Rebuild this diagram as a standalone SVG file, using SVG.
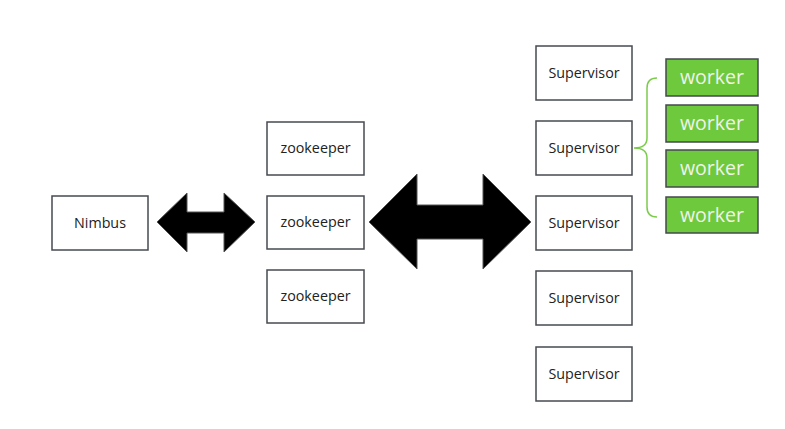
<svg xmlns="http://www.w3.org/2000/svg" width="785" height="429" viewBox="0 0 785 429">
<style>
.box{fill:#fff;stroke:#464b50;stroke-width:1.5}
.wk{fill:#6ec93c;stroke:#44494e;stroke-width:1.5}
.t{font-family:"Open Sans","Noto Sans",sans-serif;font-size:14.3px;fill:#222;text-anchor:middle;dominant-baseline:central}
.wt{font-family:"Open Sans","Noto Sans",sans-serif;font-size:19.5px;fill:#eef4ea;text-anchor:middle;dominant-baseline:central}
.arr{fill:#000;stroke:#555;stroke-width:1}
</style>
<rect width="785" height="429" fill="#fff"/>
<g id="connectors">
<path class="arr" d="M157,222 L187,193 L187,212 L224,212 L224,193 L255,222 L224,252 L224,233 L187,233 L187,252 Z"/>
<path class="arr" d="M369,222 L417,174 L417,205 L483,205 L483,174 L531,222 L483,269 L483,239 L417,239 L417,269 Z"/>
<path d="M657,78 Q647,78 647,88 L647,138 Q647,148 634,148 Q647,148 647,158 L647,207 Q647,217 657,217" fill="none" stroke="#7ccc4c" stroke-width="1.5"/>
</g>
<g id="nimbus"><rect class="box" x="52" y="196" width="96" height="54"/><text class="t" x="100" y="222">Nimbus</text></g>
<g id="zk1"><rect class="box" x="267" y="122" width="97" height="53"/><text class="t" x="315.5" y="147.5">zookeeper</text></g>
<g id="zk2"><rect class="box" x="267" y="196" width="97" height="53"/><text class="t" x="315.5" y="221.5">zookeeper</text></g>
<g id="zk3"><rect class="box" x="267" y="270" width="97" height="53"/><text class="t" x="315.5" y="295.5">zookeeper</text></g>
<g id="sup1"><rect class="box" x="536" y="46" width="96" height="54"/><text class="t" x="584" y="72">Supervisor</text></g>
<g id="sup2"><rect class="box" x="536" y="121" width="96" height="54"/><text class="t" x="584" y="147">Supervisor</text></g>
<g id="sup3"><rect class="box" x="536" y="196" width="96" height="54"/><text class="t" x="584" y="222">Supervisor</text></g>
<g id="sup4"><rect class="box" x="536" y="271" width="96" height="54"/><text class="t" x="584" y="297">Supervisor</text></g>
<g id="sup5"><rect class="box" x="536" y="347" width="96" height="54"/><text class="t" x="584" y="373">Supervisor</text></g>
<g id="w1"><rect class="wk" x="666" y="59" width="92" height="37"/><text class="wt" x="712" y="76.5">worker</text></g>
<g id="w2"><rect class="wk" x="666" y="105" width="92" height="37"/><text class="wt" x="712" y="122.5">worker</text></g>
<g id="w3"><rect class="wk" x="666" y="150" width="92" height="37"/><text class="wt" x="712" y="167.5">worker</text></g>
<g id="w4"><rect class="wk" x="666" y="197" width="92" height="36"/><text class="wt" x="712" y="214.5">worker</text></g>
</svg>
